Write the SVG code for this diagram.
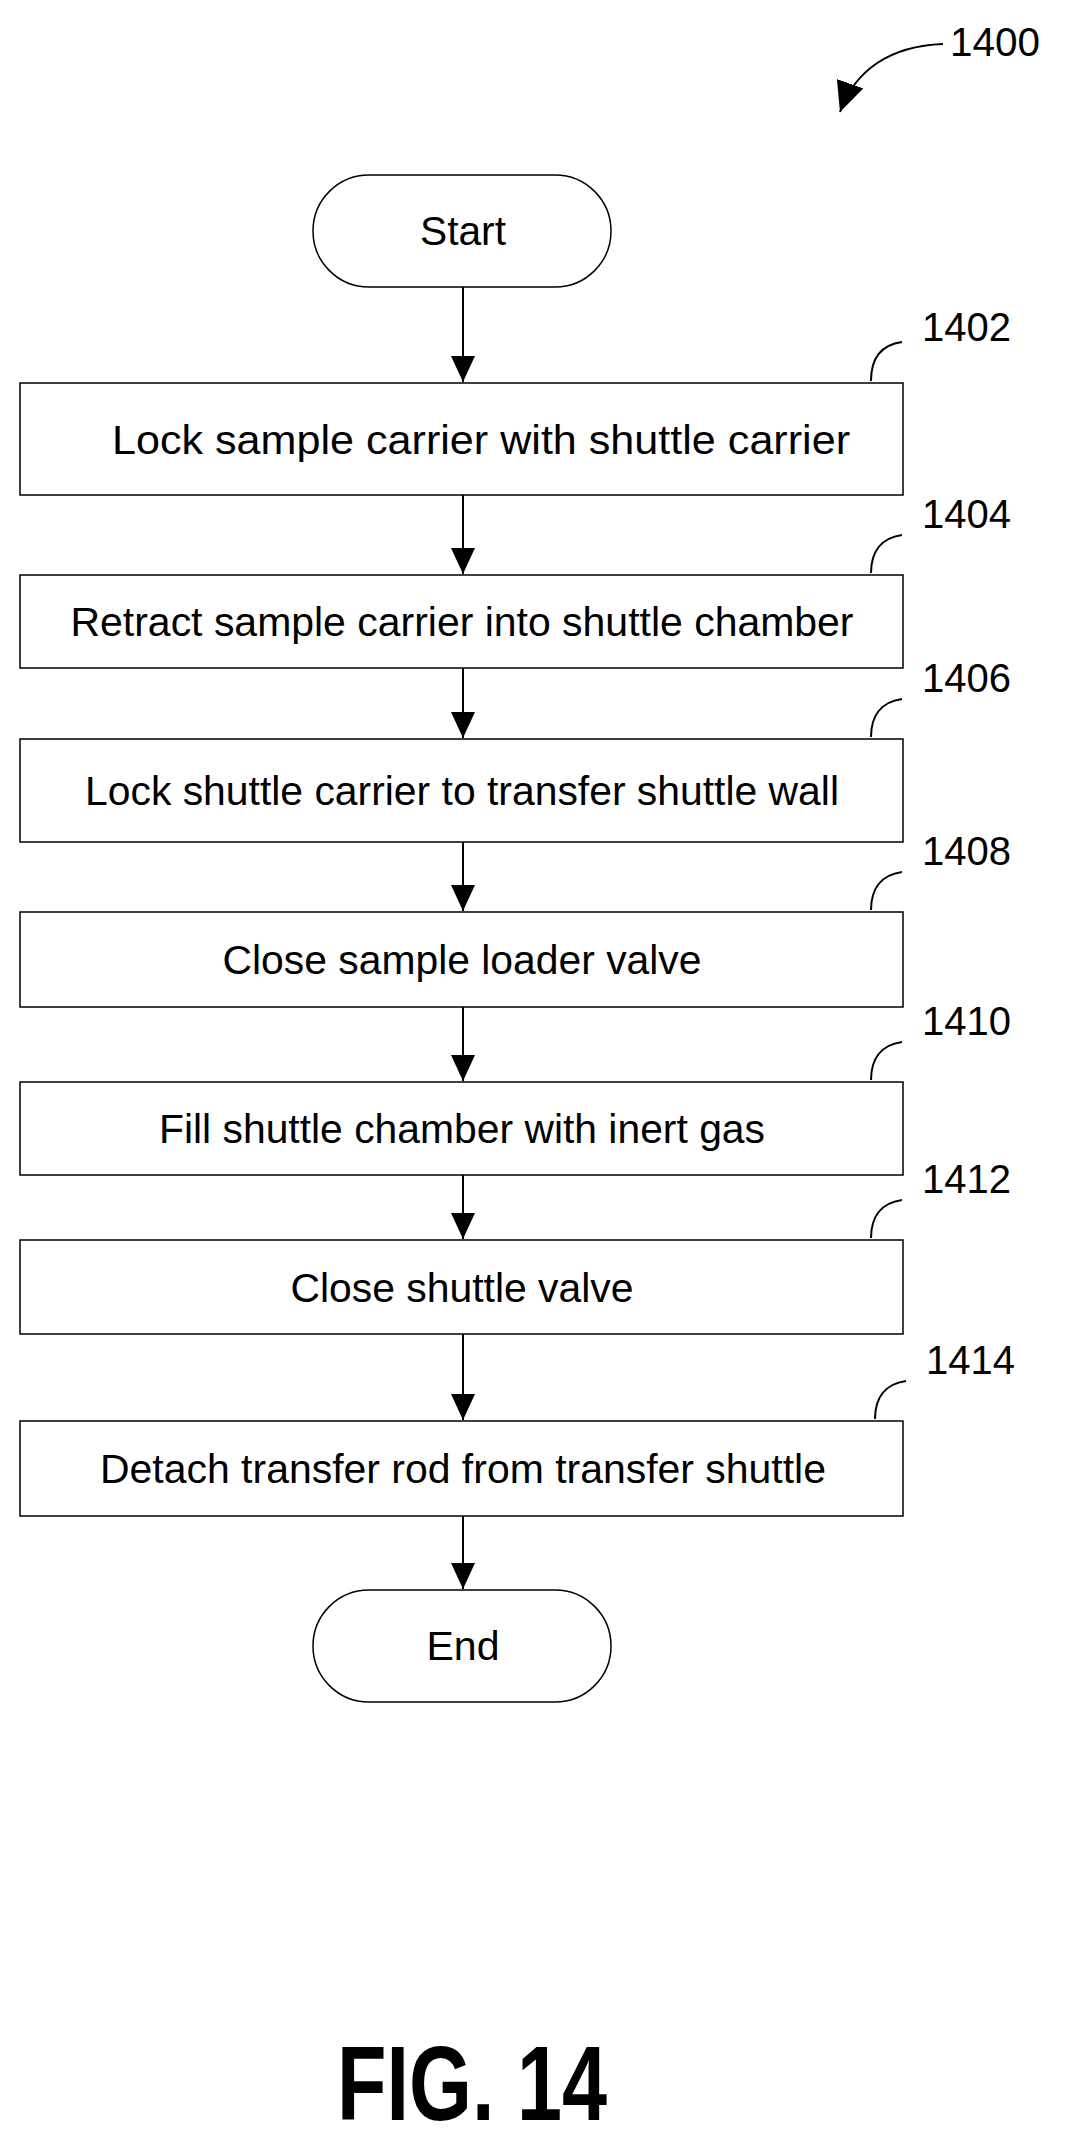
<svg xmlns="http://www.w3.org/2000/svg" width="1066" height="2139" viewBox="0 0 1066 2139">
<style>
.b{fill:#fff;stroke:#000;stroke-width:1.5}
.t{font-family:"Liberation Sans",Arial,sans-serif;font-size:41px;text-anchor:middle;fill:#000}
.n{font-family:"Liberation Sans",Arial,sans-serif;font-size:40px;fill:#000}
.c{fill:none;stroke:#000;stroke-width:2}
</style>
<defs><marker id="a" markerWidth="26" markerHeight="26" refX="26" refY="12" orient="auto" markerUnits="userSpaceOnUse"><path d="M0,0 L26,12 L0,24z" fill="#000"/></marker>
<marker id="ah" markerWidth="30" markerHeight="30" refX="30" refY="14" orient="auto" markerUnits="userSpaceOnUse"><path d="M0,0 L30,14 L0,28z" fill="#000"/></marker></defs>
<g id="ref1400"><text class="n" x="950" y="56" textLength="90" lengthAdjust="spacingAndGlyphs">1400</text><path class="c" d="M943,44 C890,46 855,70 840,112" marker-end="url(#ah)"/></g>
<g id="start"><rect class="b" x="313" y="175" width="298" height="112" rx="56"/><text class="t" x="463" y="245" textLength="86" lengthAdjust="spacingAndGlyphs">Start</text></g>
<g id="n1402"><rect class="b" x="20" y="383" width="883" height="112"/><text class="t" x="481" y="454" textLength="738" lengthAdjust="spacingAndGlyphs">Lock sample carrier with shuttle carrier</text><path class="c" d="M871,381 C871,360 880,345 902,342"/><text class="n" x="922" y="341" textLength="89" lengthAdjust="spacingAndGlyphs">1402</text></g>
<g id="n1404"><rect class="b" x="20" y="575" width="883" height="93"/><text class="t" x="462" y="636" textLength="783" lengthAdjust="spacingAndGlyphs">Retract sample carrier into shuttle chamber</text><path class="c" d="M871,573 C871,553 880,538 902,535"/><text class="n" x="922" y="528" textLength="89" lengthAdjust="spacingAndGlyphs">1404</text></g>
<g id="n1406"><rect class="b" x="20" y="739" width="883" height="103"/><text class="t" x="462" y="805" textLength="754" lengthAdjust="spacingAndGlyphs">Lock shuttle carrier to transfer shuttle wall</text><path class="c" d="M871,737 C871,717 880,702 902,699"/><text class="n" x="922" y="692" textLength="89" lengthAdjust="spacingAndGlyphs">1406</text></g>
<g id="n1408"><rect class="b" x="20" y="912" width="883" height="95"/><text class="t" x="462" y="974" textLength="479" lengthAdjust="spacingAndGlyphs">Close sample loader valve</text><path class="c" d="M871,910 C871,890 880,875 902,872"/><text class="n" x="922" y="865" textLength="89" lengthAdjust="spacingAndGlyphs">1408</text></g>
<g id="n1410"><rect class="b" x="20" y="1082" width="883" height="93"/><text class="t" x="462" y="1143" textLength="606" lengthAdjust="spacingAndGlyphs">Fill shuttle chamber with inert gas</text><path class="c" d="M871,1080 C871,1060 880,1045 902,1042"/><text class="n" x="922" y="1035" textLength="89" lengthAdjust="spacingAndGlyphs">1410</text></g>
<g id="n1412"><rect class="b" x="20" y="1240" width="883" height="94"/><text class="t" x="462" y="1302" textLength="343" lengthAdjust="spacingAndGlyphs">Close shuttle valve</text><path class="c" d="M871,1238 C871,1218 880,1203 902,1200"/><text class="n" x="922" y="1193" textLength="89" lengthAdjust="spacingAndGlyphs">1412</text></g>
<g id="n1414"><rect class="b" x="20" y="1421" width="883" height="95"/><text class="t" x="463" y="1483" textLength="726" lengthAdjust="spacingAndGlyphs">Detach transfer rod from transfer shuttle</text><path class="c" d="M875,1419 C875,1399 884,1384 906,1381"/><text class="n" x="926" y="1374" textLength="89" lengthAdjust="spacingAndGlyphs">1414</text></g>
<g id="end"><rect class="b" x="313" y="1590" width="298" height="112" rx="56"/><text class="t" x="463" y="1660" textLength="73" lengthAdjust="spacingAndGlyphs">End</text></g>
<g id="connectors">
<path class="c" d="M463,287 V382" marker-end="url(#a)"/>
<path class="c" d="M463,495 V574" marker-end="url(#a)"/>
<path class="c" d="M463,668 V738" marker-end="url(#a)"/>
<path class="c" d="M463,842 V911" marker-end="url(#a)"/>
<path class="c" d="M463,1007 V1081" marker-end="url(#a)"/>
<path class="c" d="M463,1175 V1239" marker-end="url(#a)"/>
<path class="c" d="M463,1334 V1420" marker-end="url(#a)"/>
<path class="c" d="M463,1516 V1589" marker-end="url(#a)"/>
</g>
<text x="472" y="2120" font-family="Liberation Sans,Arial,sans-serif" font-weight="bold" font-size="106" text-anchor="middle" textLength="270" lengthAdjust="spacingAndGlyphs">FIG. 14</text>
</svg>
